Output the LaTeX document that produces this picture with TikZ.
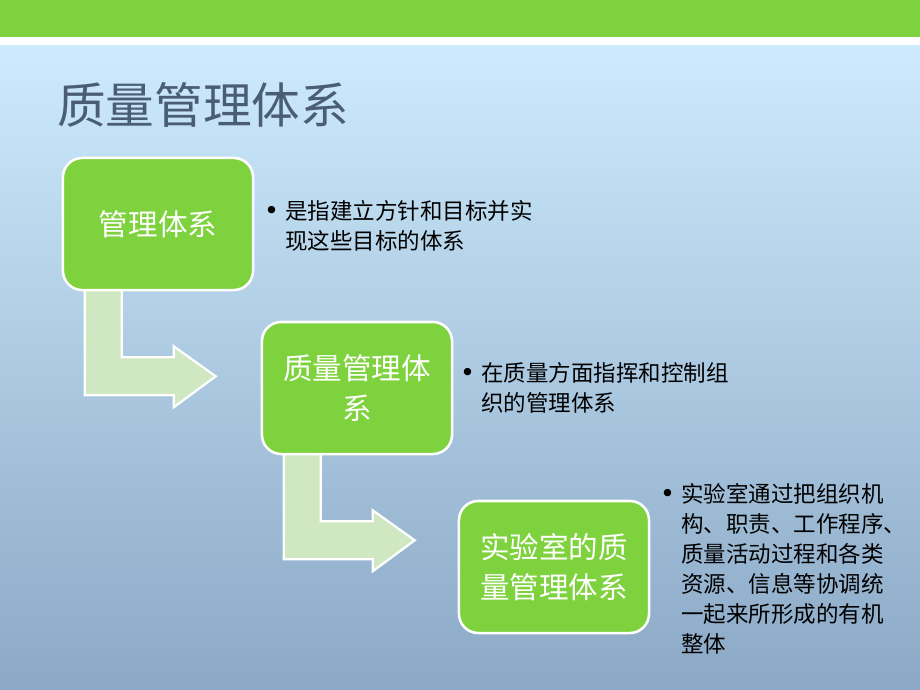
\documentclass[tikz,border=0pt]{standalone}
\usepackage{fontspec}
\setmainfont{Noto Sans CJK SC}
\newfontfamily\bulletfont{DejaVu Sans}
\usetikzlibrary{calc}

\definecolor{bargreen}{RGB}{126,210,61}
\definecolor{boxgreen}{RGB}{126,210,61}
\definecolor{arrowfill}{RGB}{207,232,194}
\definecolor{titlegray}{RGB}{74,93,115}
\definecolor{bgtop}{RGB}{205,235,252}
\definecolor{bgbottom}{RGB}{139,168,198}

\pgfdeclarelayer{back}
\pgfsetlayers{back,main}

\tikzset{
  stagebox/.style={draw=white, line width=1.8pt, fill=boxgreen,
    rounded corners=0.48cm, minimum width=4.75cm, minimum height=3.3cm,
    text=white, align=center, inner sep=0pt,
    font=\fontsize{21}{28}\selectfont},
  bendarrow/.style={draw=white, line width=1.6pt, fill=arrowfill},
  notetext/.style={anchor=north west, align=left, inner sep=0pt,
    font=\fontsize{16}{21.3}\selectfont},
}
\newcommand{\dotmark}{\llap{{\bulletfont\fontsize{18}{18}\selectfont •}\hspace{4.5pt}}}

\begin{document}
\begin{tikzpicture}[x=0.025cm, y=-0.025cm]
  \useasboundingbox (0,0) rectangle (920,690);
  \begin{pgfonlayer}{back}
    \shade[top color=bgtop, bottom color=bgbottom] (0,45) rectangle (920,690);
    \fill[white] (0,37) rectangle (920,45);
    \fill[bargreen] (0,0) rectangle (920,37);
  \end{pgfonlayer}

  % title
  \node[anchor=west, inner sep=0pt, text=titlegray,
    font=\fontsize{34.6}{40}\selectfont] (title) at (57,105) {质量管理体系};

  % the three stages
  \node[stagebox] (mgmt) at (158,224) {管理体系};
  \node[stagebox] (qms) at (357,388) {质量管理体\\系};
  \node[stagebox] (labqms) at (554,567) {实验室的质\\量管理体系};

  % notes
  \node[notetext] (mgmtnote) at (285,200)
    {\dotmark 是指建立方针和目标并实\\现这些目标的体系};
  \node[notetext] (qmsnote) at (481,362)
    {\dotmark 在质量方面指挥和控制组\\织的管理体系};
  \node[notetext] (labnote) at (681,483)
    {\dotmark 实验室通过把组织机\\构、职责、工作程序、\\质量活动过程和各类\\资源、信息等协调统\\一起来所形成的有机\\整体};

  % bent arrows, behind the boxes
  \begin{pgfonlayer}{back}
    \foreach \src in {mgmt,qms}
      \draw[bendarrow] ($(\src.south west)+(23,-7)$) -- ($(\src.south west)+(60,-7)$)
        -- ($(\src.south west)+(60,66)$) -- ($(\src.south west)+(112,66)$)
        -- ($(\src.south west)+(112,55)$) -- ($(\src.south west)+(154,85)$)
        -- ($(\src.south west)+(112,116)$) -- ($(\src.south west)+(112,104)$)
        -- ($(\src.south west)+(23,104)$) -- cycle;
  \end{pgfonlayer}
\end{tikzpicture}
\end{document}
